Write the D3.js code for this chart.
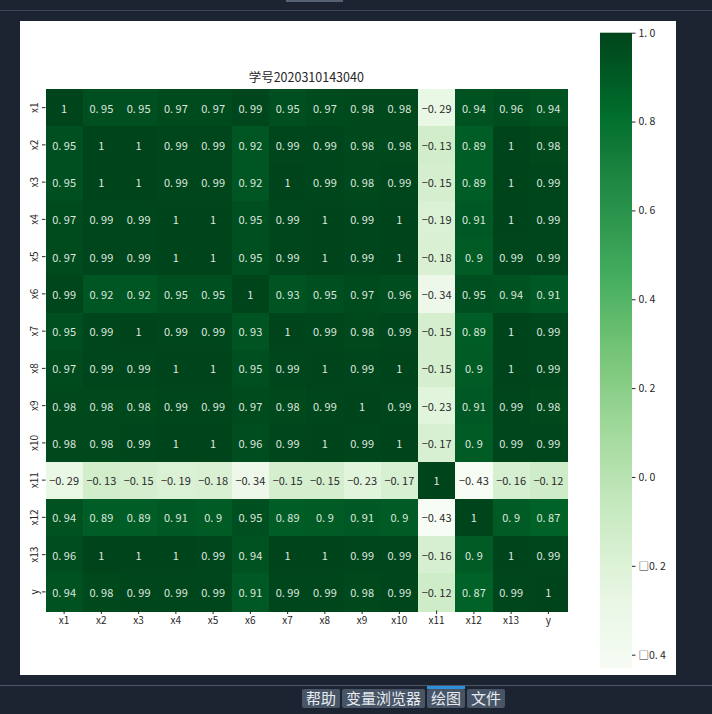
<!DOCTYPE html>
<html><head><meta charset="utf-8">
<script src="https://cdn.jsdelivr.net/npm/d3@7"></script>
<style>html,body{margin:0;padding:0;background:#1b2430;}svg{display:block;} .pre{white-space:pre;}</style>
</head><body>
<script>
const labels = ["x1","x2","x3","x4","x5","x6","x7","x8","x9","x10","x11","x12","x13","y"];
const rowX1  = [1,0.95,0.95,0.97,0.97,0.99,0.95,0.97,0.98,0.98,-0.29,0.94,0.96,0.94];
const rowX2  = [0.95,1,1,0.99,0.99,0.92,0.99,0.99,0.98,0.98,-0.13,0.89,1,0.98];
const rowX3  = [0.95,1,1,0.99,0.99,0.92,1,0.99,0.98,0.99,-0.15,0.89,1,0.99];
const rowX4  = [0.97,0.99,0.99,1,1,0.95,0.99,1,0.99,1,-0.19,0.91,1,0.99];
const rowX5  = [0.97,0.99,0.99,1,1,0.95,0.99,1,0.99,1,-0.18,0.9,0.99,0.99];
const rowX6  = [0.99,0.92,0.92,0.95,0.95,1,0.93,0.95,0.97,0.96,-0.34,0.95,0.94,0.91];
const rowX7  = [0.95,0.99,1,0.99,0.99,0.93,1,0.99,0.98,0.99,-0.15,0.89,1,0.99];
const rowX8  = [0.97,0.99,0.99,1,1,0.95,0.99,1,0.99,1,-0.15,0.9,1,0.99];
const rowX9  = [0.98,0.98,0.98,0.99,0.99,0.97,0.98,0.99,1,0.99,-0.23,0.91,0.99,0.98];
const rowX10 = [0.98,0.98,0.99,1,1,0.96,0.99,1,0.99,1,-0.17,0.9,0.99,0.99];
const rowX11 = [-0.29,-0.13,-0.15,-0.19,-0.18,-0.34,-0.15,-0.15,-0.23,-0.17,1,-0.43,-0.16,-0.12];
const rowX12 = [0.94,0.89,0.89,0.91,0.9,0.95,0.89,0.9,0.91,0.9,-0.43,1,0.9,0.87];
const rowX13 = [0.96,1,1,1,0.99,0.94,1,1,0.99,0.99,-0.16,0.9,1,0.99];
const rowY   = [0.94,0.98,0.99,0.99,0.99,0.91,0.99,0.99,0.98,0.99,-0.12,0.87,0.99,1];
const matrix = [rowX1,rowX2,rowX3,rowX4,rowX5,rowX6,rowX7,rowX8,rowX9,rowX10,rowX11,rowX12,rowX13,rowY];
const colorbarTicks = [1.0,0.8,0.6,0.4,0.2,0.0,-0.2,-0.4];
const title = "学号2020310143040";
const buttons = ["帮助","变量浏览器","绘图","文件"];

const W = 712, H = 714;
const FONT = "'Noto Sans CJK SC','Noto Sans',sans-serif";
const svg = d3.select("body").append("svg").attr("width", W).attr("height", H);

// app chrome
svg.append("rect").attr("x",0).attr("y",0).attr("width",W).attr("height",H).attr("fill","#1b2430");
svg.append("rect").attr("x",0).attr("y",10).attr("width",W).attr("height",1).attr("fill","#3c4856");
svg.append("rect").attr("x",286).attr("y",0).attr("width",57).attr("height",2).attr("fill","#566273");
svg.append("rect").attr("x",20).attr("y",21).attr("width",656).attr("height",654).attr("fill","#ffffff");

const vals = matrix.flat();
const vmin = d3.min(vals), vmax = d3.max(vals);
const greens = ["#f7fcf5","#e5f5e0","#c7e9c0","#a1d99b","#74c476","#41ab5d","#238b45","#006d2c","#00441b"];
const color = d3.scaleLinear()
  .domain(greens.map((_, i) => vmin + (vmax - vmin) * i / (greens.length - 1)))
  .range(greens).interpolate(d3.interpolateRgb).clamp(true);

// heatmap
const hx0 = 45.5, hy0 = 89, hsz = 521.5;
const x = d3.scaleBand().domain(labels).range([hx0, hx0 + hsz]);
const y = d3.scaleBand().domain(labels).range([hy0, hy0 + hsz]);

const cells = [];
matrix.forEach((row, i) => row.forEach((v, j) => cells.push({r: labels[i], c: labels[j], v})));

const g = svg.append("g").attr("shape-rendering","crispEdges");
g.selectAll("rect.cell").data(cells).join("rect")
  .attr("class","cell")
  .attr("x", d => x(d.c)).attr("y", d => y(d.r))
  .attr("width", x.bandwidth() + 1).attr("height", y.bandwidth() + 1)
  .attr("fill", d => color(d.v));

function fmt(v){ return (v < 0 ? "−" : "") + String(+Math.abs(v).toFixed(2)); }
function lum(c){
  const rgb = d3.rgb(c);
  const f = u => { u/=255; return u <= 0.03928 ? u/12.92 : Math.pow((u+0.055)/1.055, 2.4); };
  return 0.2126*f(rgb.r)+0.7152*f(rgb.g)+0.0722*f(rgb.b);
}
svg.append("g").selectAll("text.ann").data(cells).join("text")
  .attr("class","ann pre")
  .attr("x", d => x(d.c) + x.bandwidth()/2)
  .attr("y", d => y(d.r) + y.bandwidth()/2)
  .attr("text-anchor","middle").attr("dominant-baseline","central")
  .attr("font-family", FONT).attr("font-size", 11)
  .attr("fill", d => lum(color(d.v)) < 0.408 ? "#dfe6df" : "#2a2a2a")
  .text(d => fmt(d.v).replace(".", ". "));

// axes
const xAxis = svg.append("g").attr("transform", `translate(0,${hy0 + hsz})`)
  .call(d3.axisBottom(x).tickSize(3.5).tickPadding(3));
xAxis.select(".domain").remove();
xAxis.selectAll("text").attr("font-family", FONT).attr("font-size", 10).attr("fill","#262626");
xAxis.selectAll("line").attr("stroke","#262626");

const yAxis = svg.append("g").attr("transform", `translate(${hx0},0)`)
  .call(d3.axisLeft(y).tickSize(3.5).tickPadding(3));
yAxis.select(".domain").remove();
yAxis.selectAll("line").attr("stroke","#262626");
yAxis.selectAll("text")
  .attr("font-family", FONT).attr("font-size", 10).attr("fill","#262626")
  .attr("text-anchor","middle").attr("dy", null).attr("x", null)
  .attr("dominant-baseline","central")
  .attr("transform", "translate(-12,0) rotate(-90)");

// title
svg.append("text").attr("x", hx0 + hsz/2).attr("y", 82)
  .attr("text-anchor","middle").attr("font-family", FONT).attr("font-size", 12.5)
  .attr("fill","#262626").text(title);

// colorbar
const cbx = 600, cbw = 32, cby0 = 32.7, cby1 = 668;
const cb = d3.scaleLinear().domain([vmin, vmax]).range([cby1, cby0]);
const defs = svg.append("defs");
const grad = defs.append("linearGradient").attr("id","cbg")
  .attr("x1",0).attr("y1",1).attr("x2",0).attr("y2",0);
d3.range(0, 1.0001, 0.02).forEach(t => {
  grad.append("stop").attr("offset", t).attr("stop-color", color(vmin + (vmax - vmin) * t));
});
svg.append("rect").attr("x", cbx).attr("y", cby0).attr("width", cbw).attr("height", cby1 - cby0)
  .attr("fill","url(#cbg)");
const cbAxis = svg.append("g").attr("transform", `translate(${cbx + cbw},0)`)
  .call(d3.axisRight(cb).tickValues(colorbarTicks).tickSize(3.5).tickPadding(3)
    .tickFormat(v => (v < 0 ? "□" : "") + Math.abs(v).toFixed(1).replace(".", ". ")));
cbAxis.select(".domain").remove();
cbAxis.selectAll("line").attr("stroke","#262626");
cbAxis.selectAll("text").attr("class","pre").attr("font-family", FONT).attr("font-size", 10.5).attr("fill","#262626");

// bottom toolbar
svg.append("rect").attr("x",0).attr("y",685).attr("width",W).attr("height",1).attr("fill","#4a5666");
const btnX = [302, 342, 427, 467], btnW = [38, 83, 38, 38];
const bg = svg.append("g");
buttons.forEach((b, i) => {
  bg.append("rect").attr("x", btnX[i]).attr("y", 689).attr("width", btnW[i]).attr("height", 19)
    .attr("rx", 2).attr("fill", "#485566");
  if (b === "绘图") bg.append("rect").attr("x", btnX[i]).attr("y", 686).attr("width", btnW[i]).attr("height", 3).attr("fill","#2f8fd8");
  bg.append("text").attr("x", btnX[i] + btnW[i]/2).attr("y", 704)
    .attr("text-anchor","middle").attr("font-family", FONT).attr("font-size", 15)
    .attr("fill","#e6ebf0").text(b);
});
</script>
</body></html>
